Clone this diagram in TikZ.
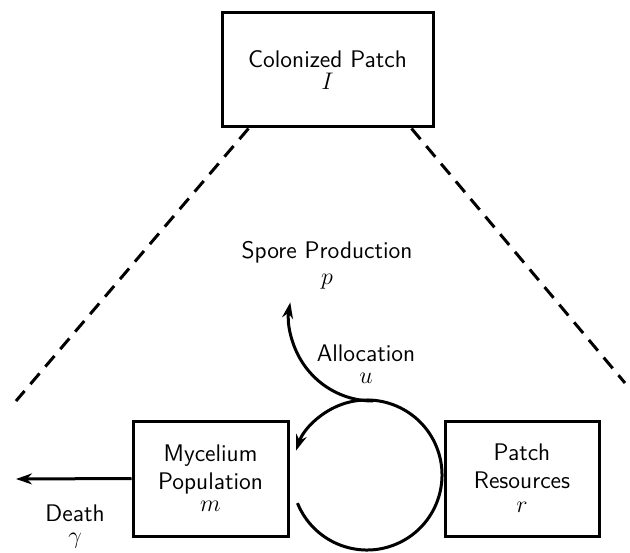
\documentclass[tikz,border=0pt]{standalone}
\usetikzlibrary{arrows.meta,calc}
\begin{document}
\begin{tikzpicture}[x=0.5pt,y=0.5pt,
  box/.style={draw,line width=1.5pt,align=center,inner sep=0pt},
  lbl/.style={align=center,inner sep=0pt},
  flow/.style={line width=1.5pt,-{Stealth[length=8pt,width=5.5pt]}},
  dashline/.style={line width=1.5pt,dash pattern=on 7pt off 4.5pt},
  font=\sffamily\fontsize{12}{14}\selectfont]
\useasboundingbox (0,0) rectangle (630,552);
\node[box,minimum width=105.5pt,minimum height=57pt] (top) at (327.5,482) {Colonized Patch\\[-3pt]$I$};
\node[box,minimum width=77.5pt,minimum height=57.5pt] (myc) at (210.5,73.5) {Mycelium\\Population\\[-3pt]$m$};
\node[box,minimum width=77pt,minimum height=57.5pt] (pat) at (522,73.5) {Patch\\Resources\\[-2pt]$r$};
\node[lbl] (spore) at (327,287) {Spore Production\\[-1pt]$p$};
\node[lbl] (alloc) at (366,188) {Allocation\\[-3pt]$u$};
\node[lbl] (death) at (75,26) {Death\\[-3pt]$\gamma$};
\coordinate (dl) at (16,151);
\coordinate (dr) at (625,169);
\coordinate (dend) at (16,73);
\coordinate (cc) at (367,77);
\coordinate (ac) at (373,235);
\draw[dashline] ([xshift=14pt]top.south west) -- (dl);
\draw[dashline] ([xshift=-11.5pt]top.south east) -- (dr);
\draw[flow] (myc.west) -- (dend);
\draw[flow] ($(cc)+(202:75)$) arc[start angle=202,end angle=521,radius=37.5pt];
\draw[flow] ($(ac)+(-90:84)$) arc[start angle=-90,end angle=-190,radius=42pt];
\end{tikzpicture}
\end{document}
